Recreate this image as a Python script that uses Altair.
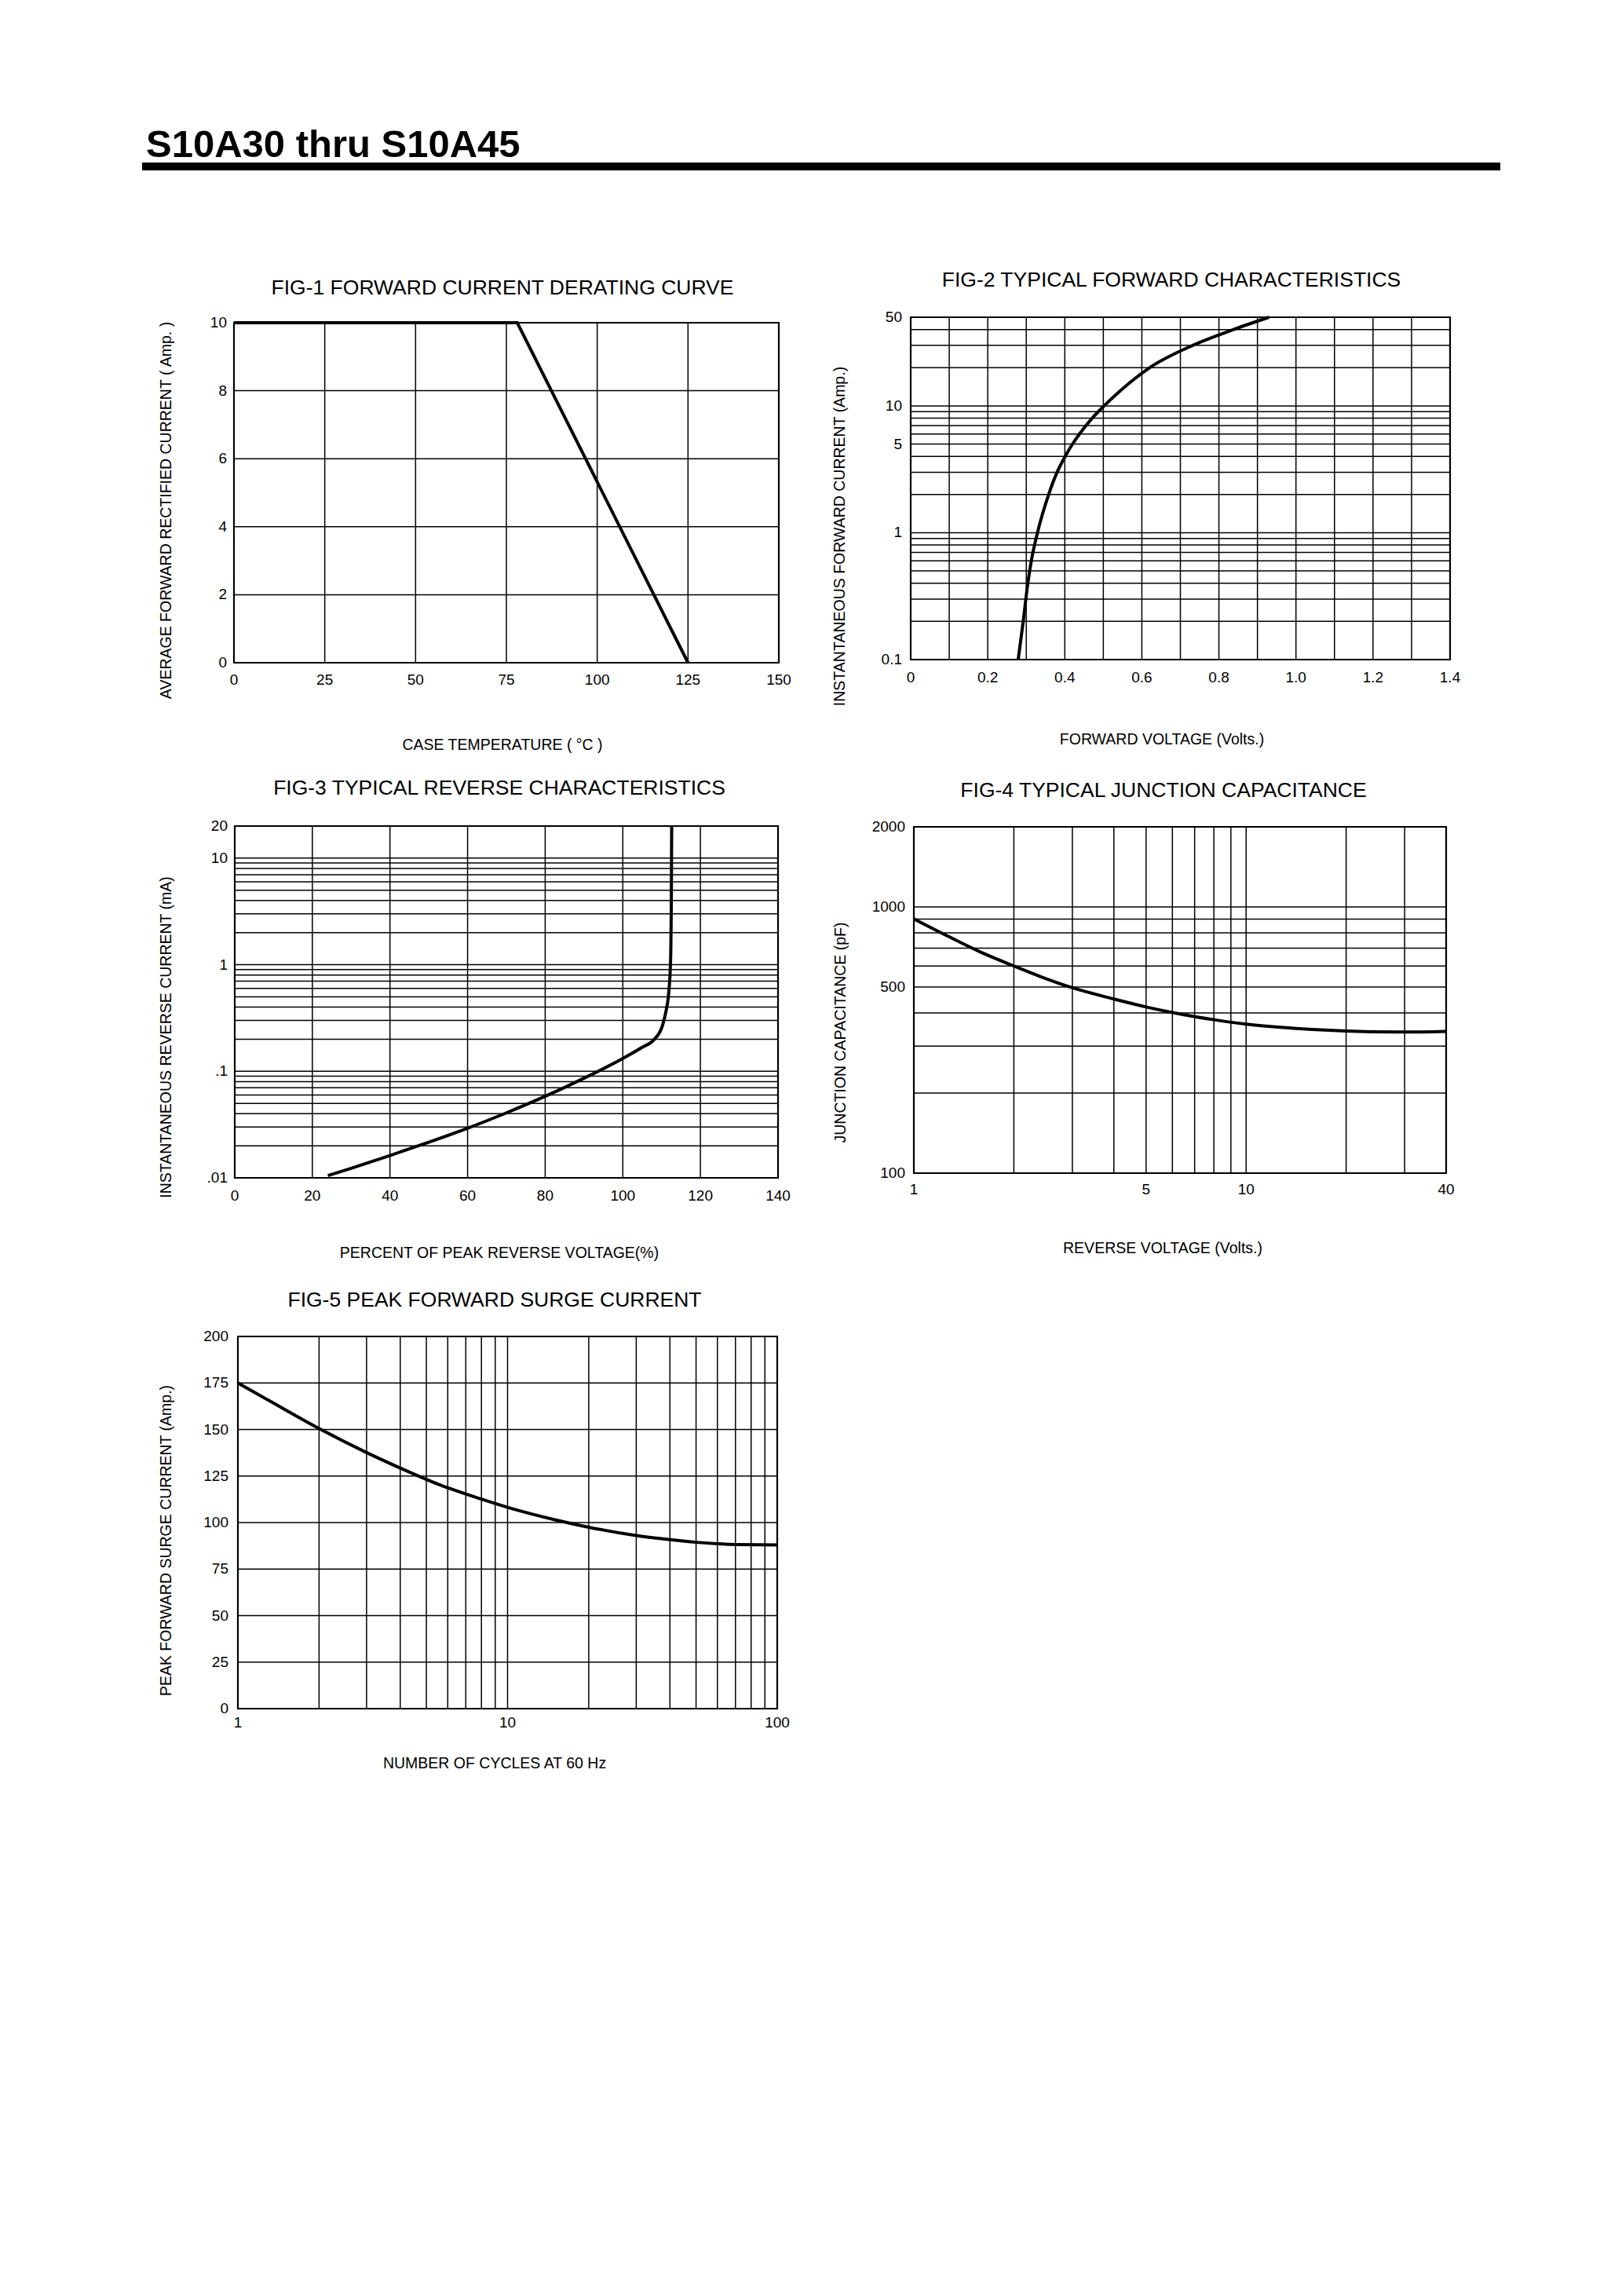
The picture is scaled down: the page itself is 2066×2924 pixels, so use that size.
import altair as alt
import pandas as pd

# ---------------- data ----------------
page_title = ["S10A30 thru S10A45"]

# FIG-1
f1_title = ["FIG-1 FORWARD CURRENT DERATING CURVE"]
f1_xtitle = ["CASE TEMPERATURE ( \u00b0C )"]
f1_ytitle = ["AVERAGE FORWARD RECTIFIED CURRENT ( Amp. )"]
f1_temp = [0, 78, 125]
f1_current = [10, 10, 0]
f1_xgrid = [25, 50, 75, 100, 125]
f1_ygrid = [2, 4, 6, 8]
f1_xticks = [0, 25, 50, 75, 100, 125, 150]
f1_xlabels = ["0", "25", "50", "75", "100", "125", "150"]
f1_yticks = [0, 2, 4, 6, 8, 10]
f1_ylabels = ["0", "2", "4", "6", "8", "10"]

# FIG-2
f2_title = ["FIG-2 TYPICAL FORWARD CHARACTERISTICS"]
f2_xtitle = ["FORWARD VOLTAGE (Volts.)"]
f2_ytitle = ["INSTANTANEOUS FORWARD CURRENT (Amp.)"]
f2_volt = [0.279, 0.292, 0.304, 0.313, 0.329, 0.358, 0.380, 0.401, 0.420, 0.438,
           0.455, 0.471, 0.502, 0.620, 0.732, 0.838, 0.930]
f2_current = [0.1, 0.2, 0.4, 0.6, 1, 2, 3, 4, 5, 6, 7, 8, 10, 20, 30, 40, 50]
f2_xgrid = [0.1, 0.2, 0.3, 0.4, 0.5, 0.6, 0.7, 0.8, 0.9, 1.0, 1.1, 1.2, 1.3]
f2_ygrid = [0.2, 0.3, 0.4, 0.5, 0.6, 0.7, 0.8, 0.9, 1, 2, 3, 4, 5, 6, 7, 8, 9, 10, 20, 30, 40]
f2_xticks = [0, 0.2, 0.4, 0.6, 0.8, 1.0, 1.2, 1.4]
f2_xlabels = ["0", "0.2", "0.4", "0.6", "0.8", "1.0", "1.2", "1.4"]
f2_yticks = [0.1, 1, 5, 10, 50]
f2_ylabels = ["0.1", "1", "5", "10", "50"]

# FIG-3
f3_title = ["FIG-3 TYPICAL REVERSE CHARACTERISTICS"]
f3_xtitle = ["PERCENT OF PEAK REVERSE VOLTAGE(%)"]
f3_ytitle = ["INSTANTANEOUS REVERSE CURRENT (mA)"]
f3_pct = [24, 30, 40, 50, 60, 70, 80, 90, 100, 105, 108,
          110.2, 111.2, 111.8, 112.3, 112.5, 112.6]
f3_current = [0.0105, 0.0123, 0.0162, 0.0216, 0.0292, 0.0407, 0.0582, 0.0861, 0.132,
              0.168, 0.197, 0.267, 0.377, 0.53, 1.06, 4.2, 20]
f3_xgrid = [20, 40, 60, 80, 100, 120]
f3_ygrid = [0.02, 0.03, 0.04, 0.05, 0.06, 0.07, 0.08, 0.09, 0.1,
            0.2, 0.3, 0.4, 0.5, 0.6, 0.7, 0.8, 0.9, 1,
            2, 3, 4, 5, 6, 7, 8, 9, 10]
f3_xticks = [0, 20, 40, 60, 80, 100, 120, 140]
f3_xlabels = ["0", "20", "40", "60", "80", "100", "120", "140"]
f3_yticks = [0.01, 0.1, 1, 10, 20]
f3_ylabels = [".01", ".1", "1", "10", "20"]

# FIG-4
f4_title = ["FIG-4 TYPICAL JUNCTION CAPACITANCE"]
f4_xtitle = ["REVERSE VOLTAGE (Volts.)"]
f4_ytitle = ["JUNCTION CAPACITANCE (pF)"]
f4_volt = [1, 1.27, 1.6, 2, 2.4, 3, 4, 5, 6, 8, 10, 12.7, 20, 30, 40]
f4_cap = [902, 775, 674, 600, 548, 497, 451, 421, 401, 377, 363, 353, 342, 339, 341]
f4_xgrid = [2, 3, 4, 5, 6, 7, 8, 9, 10, 20, 30]
f4_ygrid = [200, 300, 400, 500, 600, 700, 800, 900, 1000]
f4_xticks = [1, 5, 10, 40]
f4_xlabels = ["1", "5", "10", "40"]
f4_yticks = [100, 500, 1000, 2000]
f4_ylabels = ["100", "500", "1000", "2000"]

# FIG-5
f5_title = ["FIG-5 PEAK FORWARD SURGE CURRENT"]
f5_xtitle = ["NUMBER OF CYCLES AT 60 Hz"]
f5_ytitle = ["PEAK FORWARD SURGE CURRENT (Amp.)"]
f5_cycles = [1, 1.35, 2, 3, 4, 5.6, 8, 10, 15, 20, 30, 40, 50, 60, 70, 100]
f5_current = [175, 164.3, 150.5, 137.6, 129.3, 120.3, 112.6, 108.2, 101.5, 97.5,
              93.0, 90.8, 89.4, 88.6, 88.2, 88.0]
f5_xgrid = [2, 3, 4, 5, 6, 7, 8, 9, 10, 20, 30, 40, 50, 60, 70, 80, 90]
f5_ygrid = [25, 50, 75, 100, 125, 150, 175]
f5_xticks = [1, 10, 100]
f5_xlabels = ["1", "10", "100"]
f5_yticks = [0, 25, 50, 75, 100, 125, 150, 175, 200]
f5_ylabels = ["0", "25", "50", "75", "100", "125", "150", "175", "200"]

# ---------------- styling / layout ----------------
M = 8  # page margin
FONT = "Liberation Sans Narrow, Arial Narrow, Liberation Sans, sans-serif"
TICK_FS = 19
AXT_FS = 19.5
TTL_FS = 26.5


def P(v):
    return v - M


def text_layer(txt, x, y, size, angle=0, align="center", baseline="middle", bold=False):
    mk = dict(font=FONT, fontSize=size, color="black", align=align, baseline=baseline)
    if angle:
        mk["angle"] = angle
    if bold:
        mk["fontWeight"] = "bold"
    return alt.Chart(pd.DataFrame({"t": txt})).mark_text(**mk).encode(
        x=alt.value(P(x)), y=alt.value(P(y)), text="t:N")


def figure(xs_type, xdom, ys_type, ydom, box, cx, cy, xgrid, ygrid,
           xticks, xlabels, yticks, ylabels, title, xtitle, ytitle, lay, interp):
    x0, x1, y0, y1 = box
    xs = alt.Scale(type=xs_type, domain=xdom, range=[P(x0), P(x1)], nice=False)
    ys = alt.Scale(type=ys_type, domain=ydom, range=[P(y1), P(y0)], nice=False)

    vdf = pd.DataFrame({"g": xgrid, "lo": ydom[0], "hi": ydom[1]})
    hdf = pd.DataFrame({"g": ygrid, "lo": xdom[0], "hi": xdom[1]})
    vrule = alt.Chart(vdf).mark_rule(color="black", strokeWidth=1.5).encode(
        x=alt.X("g:Q", scale=xs, axis=None),
        y=alt.Y("lo:Q", scale=ys, axis=None), y2="hi:Q")
    hrule = alt.Chart(hdf).mark_rule(color="black", strokeWidth=1.5).encode(
        y=alt.Y("g:Q", scale=ys, axis=None),
        x=alt.X("lo:Q", scale=xs, axis=None), x2="hi:Q")
    fdf = pd.DataFrame({"a": [xdom[0]], "b": [xdom[1]], "c": [ydom[0]], "d": [ydom[1]]})
    frame = alt.Chart(fdf).mark_rect(fillOpacity=0, stroke="black", strokeWidth=2.2).encode(
        x=alt.X("a:Q", scale=xs, axis=None), x2="b:Q",
        y=alt.Y("c:Q", scale=ys, axis=None), y2="d:Q")
    cdf = pd.DataFrame({"x": cx, "y": cy})
    curve = alt.Chart(cdf).mark_line(color="black", strokeWidth=4, interpolate=interp).encode(
        x=alt.X("x:Q", scale=xs, axis=None), y=alt.Y("y:Q", scale=ys, axis=None))
    xl = alt.Chart(pd.DataFrame({"v": xticks, "t": xlabels})).mark_text(
        font=FONT, fontSize=TICK_FS, color="black", align="center", baseline="middle").encode(
        x=alt.X("v:Q", scale=xs, axis=None), y=alt.value(P(lay["xly"])), text="t:N")
    yl = alt.Chart(pd.DataFrame({"v": yticks, "t": ylabels})).mark_text(
        font=FONT, fontSize=TICK_FS, color="black", align="right", baseline="middle").encode(
        y=alt.Y("v:Q", scale=ys, axis=None), x=alt.value(P(lay["ylx"])), text="t:N")
    t1 = text_layer(title, lay["tx"], lay["ty"], TTL_FS)
    t2 = text_layer(xtitle, lay["xtx"], lay["xty"], AXT_FS)
    t3 = text_layer(ytitle, lay["ytx"], lay["yty"], AXT_FS, angle=270)
    return alt.layer(hrule, vrule, frame, curve, xl, yl, t1, t2, t3)


fig1 = figure("linear", [0, 150], "linear", [0, 10], (298, 992, 411, 844),
              f1_temp, f1_current, f1_xgrid, f1_ygrid, f1_xticks, f1_xlabels,
              f1_yticks, f1_ylabels, f1_title, f1_xtitle, f1_ytitle,
              dict(xly=866, ylx=289, tx=640, ty=367, xtx=640, xty=949, ytx=212, yty=650),
              "linear")
fig2 = figure("linear", [0, 1.4], "log", [0.1, 50], (1160, 1847, 404, 840),
              f2_volt, f2_current, f2_xgrid, f2_ygrid, f2_xticks, f2_xlabels,
              f2_yticks, f2_ylabels, f2_title, f2_xtitle, f2_ytitle,
              dict(xly=863, ylx=1149, tx=1492, ty=357, xtx=1480, xty=942, ytx=1070, yty=683),
              "monotone")
fig3 = figure("linear", [0, 140], "log", [0.01, 20], (299, 991, 1052, 1500),
              f3_pct, f3_current, f3_xgrid, f3_ygrid, f3_xticks, f3_xlabels,
              f3_yticks, f3_ylabels, f3_title, f3_xtitle, f3_ytitle,
              dict(xly=1523, ylx=290, tx=636, ty=1004, xtx=636, xty=1596, ytx=212, yty=1321),
              "monotone")
fig4 = figure("log", [1, 40], "log", [100, 2000], (1164, 1842, 1053, 1494),
              f4_volt, f4_cap, f4_xgrid, f4_ygrid, f4_xticks, f4_xlabels,
              f4_yticks, f4_ylabels, f4_title, f4_xtitle, f4_ytitle,
              dict(xly=1515, ylx=1153, tx=1482, ty=1007, xtx=1481, xty=1590, ytx=1071, yty=1315),
              "monotone")
fig5 = figure("log", [1, 100], "linear", [0, 200], (303, 990, 1702, 2176),
              f5_cycles, f5_current, f5_xgrid, f5_ygrid, f5_xticks, f5_xlabels,
              f5_yticks, f5_ylabels, f5_title, f5_xtitle, f5_ytitle,
              dict(xly=2194, ylx=291, tx=630, ty=1656, xtx=630, xty=2246, ytx=212, yty=1962),
              "monotone")

header = text_layer(page_title, 186, 200, 49, align="left", baseline="alphabetic", bold=True)
bar = alt.Chart(pd.DataFrame({"k": [1]})).mark_rect(color="black").encode(
    x=alt.value(P(181)), x2=alt.value(P(1911)), y=alt.value(P(207)), y2=alt.value(P(217)))

chart = alt.layer(header, bar, fig1, fig2, fig3, fig4, fig5).resolve_scale(
    x="independent", y="independent"
).properties(
    width=2050, height=2908, padding=0,
    autosize=alt.AutoSizeParams(type="none"),
    background="white",
).configure_view(strokeWidth=0)

chart.save("out.html", embed_options={"renderer": "svg", "actions": False})
